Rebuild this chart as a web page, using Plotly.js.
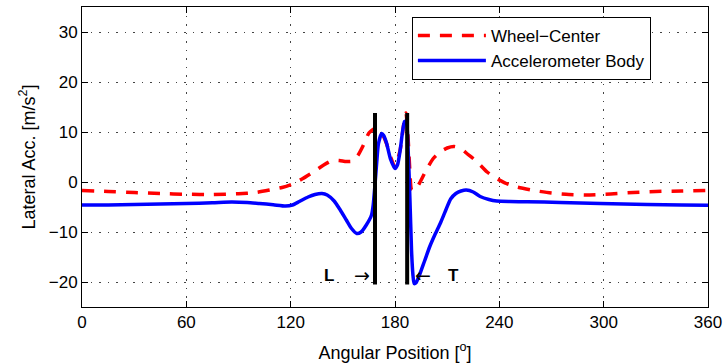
<!DOCTYPE html>
<html>
<head>
<meta charset="utf-8">
<script src="https://cdn.plot.ly/plotly-3.0.1.min.js"></script>
<style>html,body{margin:0;padding:0;background:#fff;}#chart{width:724px;height:364px;}</style>
</head>
<body>
<div id="chart"></div>
<script>
// Wheel-Center (red dashed)
const wheelX = [0, 15, 30, 45, 60, 75, 90, 100, 108, 115, 121, 127, 133, 139, 144, 148, 152, 156, 159, 162, 165, 168, 170.5, 172.5, 175, 178, 180, 183, 185, 186.3, 187.5, 188.5, 189.5, 191, 194, 198, 202, 206, 210, 214, 218, 221, 227, 233, 238, 244, 250, 260, 270, 280, 290, 304, 317, 330, 345, 360];
const wheelY = [-1.7, -1.9, -2.1, -2.3, -2.45, -2.5, -2.35, -2.1, -1.6, -1.1, -0.4, 0.7, 2.0, 3.4, 4.3, 4.3, 4.1, 4.2, 5.5, 7.5, 9.8, 10.6, 10.2, 9.7, 7.8, 4.5, 3.0, 6.5, 11.5, 13.8, 9.0, 2.5, -1.5, -1.8, -0.3, 2.4, 4.7, 6.0, 6.8, 7.1, 6.7, 5.8, 4.1, 2.0, 0.8, -0.3, -1.0, -1.7, -2.2, -2.5, -2.6, -2.4, -2.1, -1.9, -1.8, -1.7];

// Accelerometer Body (blue solid)
const bodyX = [0, 15, 30, 45, 60, 75, 86, 95, 102, 110, 117, 121, 125, 130, 134, 138, 141, 145, 148.5, 152, 155, 158, 160.5, 163.5, 166.5, 167.5, 168.5, 169.5, 170.5, 172.3, 173.5, 175.2, 177.5, 180, 181.5, 183, 184.3, 185.5, 186.5, 187.5, 188.6, 189.5, 190.3, 191, 192, 194.4, 197, 200, 203, 206, 209, 212, 215, 218, 221, 225, 229, 234, 238.5, 246, 256, 275, 298, 325, 345, 360];
const bodyY = [-4.6, -4.6, -4.5, -4.4, -4.3, -4.15, -4.0, -4.1, -4.3, -4.55, -4.8, -4.6, -3.9, -3.0, -2.5, -2.3, -2.6, -3.8, -5.6, -7.6, -9.3, -10.3, -10.0, -8.6, -6.6, -4.5, -0.5, 4.0, 7.7, 9.7, 9.3, 7.7, 4.5, 2.7, 3.5, 6.4, 10.0, 12.1, 12.2, 7.0, -3.6, -13.6, -18.5, -20.3, -20.2, -18.3, -15.8, -12.9, -10.5, -8.3, -5.8, -3.4, -2.3, -1.8, -1.6, -2.0, -2.9, -3.5, -3.8, -3.9, -3.95, -4.1, -4.3, -4.5, -4.6, -4.65];

// Leading / trailing edge markers
const markerX = [168.5, 187.0];
const markerYRange = [-20.5, 13.8];
const labelText = ['<b>L</b>', '→', '←', '<b>T</b>'];
const labelX = [142.2, 160.8, 196.0, 213.5];
const labelY = -18.6;

const xTicks = [0, 60, 120, 180, 240, 300, 360];
const yTicks = [-20, -10, 0, 10, 20, 30];

const font = 'Liberation Sans, Arial, Helvetica, sans-serif';
const arrowFont = 'DejaVu Sans, sans-serif';

const traces = [
  {x: wheelX, y: wheelY, name: 'Wheel\u2212Center', mode: 'lines',
   line: {color: '#ff0000', width: 3.5, dash: '12px,10px', shape: 'spline', smoothing: 0.6}},
  {x: bodyX, y: bodyY, name: 'Accelerometer Body', mode: 'lines',
   line: {color: '#0000ff', width: 3.5, shape: 'spline', smoothing: 0.6}}
];

const shapes = markerX.map(x => ({type: 'line', xref: 'x', yref: 'y', x0: x, x1: x,
  y0: markerYRange[0], y1: markerYRange[1], line: {color: '#000', width: 4}}));

const annotations = labelText.map((t, i) => {
  const isArrow = (t === '→' || t === '←');
  return {x: labelX[i], y: labelY, xref: 'x', yref: 'y',
    text: t, showarrow: false,
    font: {family: isArrow ? arrowFont : font, size: isArrow ? 19 : 17, color: '#000'}};
});

const axisCommon = {
  showline: true, linecolor: '#000', linewidth: 1, mirror: 'ticks',
  ticks: 'inside', ticklen: 6, tickcolor: '#000', tickwidth: 1,
  showgrid: true, gridcolor: '#444', gridwidth: 1, griddash: '1.5px,7px',
  zeroline: false, tickfont: {family: font, size: 17, color: '#000'}
};

const layout = {
  width: 724, height: 364,
  margin: {l: 82, r: 16, t: 7, b: 57},
  paper_bgcolor: '#fff', plot_bgcolor: '#fff',
  showlegend: true,
  legend: {x: 0.527, y: 0.967, xanchor: 'left', yanchor: 'top',
    bordercolor: '#000', borderwidth: 1, bgcolor: '#fff',
    font: {family: font, size: 17, color: '#000'}, itemwidth: 68, tracegroupgap: 0},
  xaxis: Object.assign({}, axisCommon, {range: [0, 360], tickvals: xTicks,
    title: {text: 'Angular Position [<sup>o</sup>]', font: {family: font, size: 18, color: '#000'}, standoff: 14}}),
  yaxis: Object.assign({}, axisCommon, {range: [-25, 35], tickvals: yTicks,
    title: {text: 'Lateral Acc. [m/s<sup>2</sup>]', font: {family: font, size: 18, color: '#000'}, standoff: 8}}),
  shapes: shapes,
  annotations: annotations
};

Plotly.newPlot('chart', traces, layout, {displayModeBar: false, staticPlot: true});
</script>
</body>
</html>
